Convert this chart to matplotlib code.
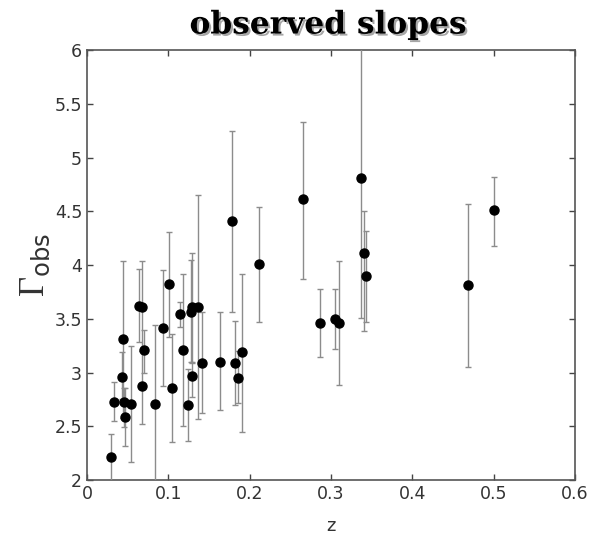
"""Observed slopes vs redshift."""

import matplotlib
matplotlib.use("Agg")
import matplotlib.pyplot as plt
import matplotlib.patheffects as pe

# redshift, observed slope and lower/upper error bounds
z = [0.030, 0.033, 0.044, 0.043, 0.046, 0.047, 0.054, 0.064, 0.068, 0.070,
     0.068, 0.083, 0.094, 0.101, 0.104, 0.114, 0.118, 0.124, 0.128, 0.129,
     0.129, 0.137, 0.142, 0.164, 0.178, 0.182, 0.186, 0.190, 0.212, 0.265,
     0.287, 0.305, 0.310, 0.337, 0.340, 0.343, 0.468, 0.501]
gamma = [2.21, 2.73, 3.31, 2.96, 2.73, 2.59, 2.71, 3.62, 3.61, 3.21,
         2.87, 2.71, 3.41, 3.82, 2.86, 3.54, 3.21, 2.70, 3.56, 3.61,
         2.97, 3.61, 3.09, 3.10, 4.41, 3.09, 2.95, 3.19, 4.01, 4.61,
         3.46, 3.50, 3.46, 4.81, 4.11, 3.90, 3.81, 4.51]
lower = [1.95, 2.55, 2.58, 2.75, 2.49, 2.32, 2.17, 3.28, 3.20, 3.00,
         2.52, 1.90, 2.87, 3.33, 2.35, 3.42, 2.50, 2.36, 3.10, 3.10,
         2.77, 2.57, 2.62, 2.65, 3.56, 2.70, 2.72, 2.45, 3.47, 3.87,
         3.14, 3.22, 2.88, 3.51, 3.39, 3.47, 3.05, 4.18]
upper = [2.43, 2.91, 4.04, 3.19, 2.86, 2.86, 3.25, 3.96, 4.04, 3.40,
         3.20, 3.44, 3.95, 4.31, 3.36, 3.66, 3.92, 3.03, 4.05, 4.11,
         3.09, 4.65, 3.56, 3.56, 5.25, 3.48, 3.20, 3.92, 4.54, 5.33,
         3.78, 3.78, 4.04, 6.50, 4.50, 4.32, 4.57, 4.82]

xticks = [0, 0.1, 0.2, 0.3, 0.4, 0.5, 0.6]
xtick_labels = ["0", "0.1", "0.2", "0.3", "0.4", "0.5", "0.6"]
yticks = [2, 2.5, 3, 3.5, 4, 4.5, 5, 5.5, 6]
ytick_labels = ["2", "2.5", "3", "3.5", "4", "4.5", "5", "5.5", "6"]


def main() -> None:
    plt.rcParams["font.family"] = ["DejaVu Sans"]
    plt.rcParams["mathtext.fontset"] = "custom"
    plt.rcParams["mathtext.rm"] = "Liberation Serif"
    plt.rcParams["mathtext.sf"] = "DejaVu Sans"
    fig = plt.figure(figsize=(5.89, 5.44), dpi=100)
    ax = fig.add_axes([0.1477, 0.1176, 0.8285, 0.7905])

    yerr = [[g - lo for g, lo in zip(gamma, lower)],
            [hi - g for g, hi in zip(gamma, upper)]]
    ax.errorbar(z, gamma, yerr=yerr, fmt="o", color="black", markersize=6.5,
                ecolor="#8c8c8c", elinewidth=1.0, capsize=2.5, capthick=1.0,
                zorder=3)

    ax.set_xlim(0, 0.6)
    ax.set_ylim(2, 6)
    ax.set_xticks(xticks)
    ax.set_xticklabels(xtick_labels)
    ax.set_yticks(yticks)
    ax.set_yticklabels(ytick_labels)
    ax.tick_params(direction="in", top=True, right=True, length=4, width=1,
                   color="#444444", labelsize=12.5, labelcolor="#333333")
    for spine in ax.spines.values():
        spine.set_color("#555555")
        spine.set_linewidth(1.2)

    ax.set_xlabel("z", fontsize=13, color="#333333", labelpad=10)
    ax.set_ylabel(r"$\mathrm{\Gamma}_{\mathsf{obs}}$", fontsize=25,
                  color="#333333", labelpad=2)

    title = fig.text(0.557, 0.954, "observed slopes", ha="center", va="center",
                     fontsize=22.5, fontweight="bold", family="DejaVu Serif")
    title.set_path_effects([pe.SimplePatchShadow(offset=(1.5, -1.5),
                                                 alpha=0.35),
                            pe.Normal()])

    fig.savefig("out.png", dpi=100)
    plt.close(fig)


if __name__ == "__main__":
    main()
